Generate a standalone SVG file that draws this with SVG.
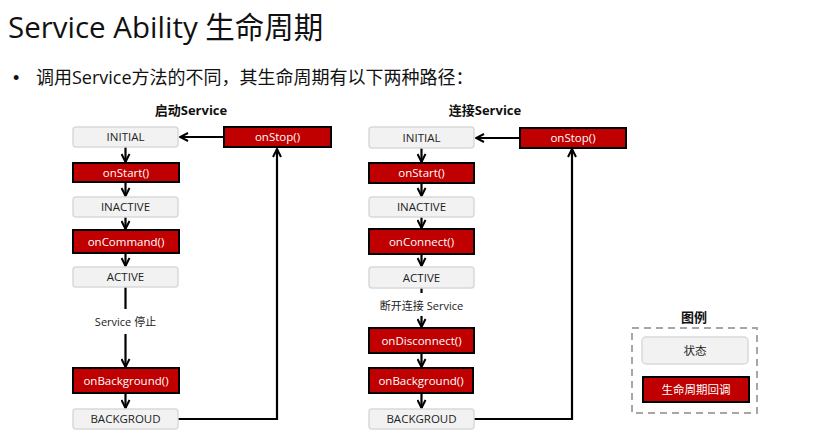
<svg xmlns="http://www.w3.org/2000/svg" width="820" height="437" viewBox="0 0 820 437">
<defs>
<marker id="ah" viewBox="0 0 10 10" refX="9" refY="5" markerWidth="10" markerHeight="10" markerUnits="userSpaceOnUse" orient="auto">
<path d="M1,1 L9,5 L1,9" fill="none" stroke="#000" stroke-width="2"/>
</marker>
<style>
text{font-family:"Open Sans","Noto Sans","Noto Sans CJK SC",sans-serif;}
.st{fill:#f2f2f2;stroke:#d9d9d9;stroke-width:1.5;}
.cb{fill:#c00000;stroke:#000;stroke-width:2;}
.ts{font-size:11.5px;fill:#222;text-anchor:middle;}
.tc{font-size:11.5px;fill:#fff;text-anchor:middle;}
.ln{fill:none;stroke:#000;stroke-width:2.2;}
.ar{fill:none;stroke:#000;stroke-width:2.2;marker-end:url(#ah);}
.hd{font-size:13px;font-weight:bold;fill:#111;text-anchor:middle;}
.lb{font-size:11px;fill:#222;text-anchor:middle;}
</style>
</defs>
<rect width="820" height="437" fill="#fff"/>
<text x="8" y="38" font-size="29.5" fill="#111">Service Ability 生命周期</text>
<text x="13" y="84" font-size="18" fill="#111" style="font-family:'Liberation Sans',sans-serif">•</text>
<text x="36" y="84" font-size="18" fill="#111">调用Service方法的不同，其生命周期有以下两种路径：</text>

<text x="191" y="115" class="hd">启动Service</text>
<text x="485" y="115" class="hd">连接Service</text>

<g id="connectors">
<path class="ar" d="M224,137 H180"/>
<path class="ar" d="M125.5,147 V162"/>
<path class="ar" d="M125.5,182 V196"/>
<path class="ar" d="M125.5,217 V229"/>
<path class="ar" d="M125.5,253 V266"/>
<path class="ln" d="M125.5,287 V309"/>
<path class="ar" d="M125.5,334 V367"/>
<path class="ar" d="M125.5,393 V408"/>
<path class="ar" d="M178,419 H277 V149"/>

<path class="ar" d="M520,138 H476"/>
<path class="ar" d="M421.5,148 V162"/>
<path class="ar" d="M421.5,183 V196"/>
<path class="ar" d="M421.5,217 V228"/>
<path class="ar" d="M421.5,254 V266"/>
<path class="ln" d="M421.5,288 V293"/>
<path class="ar" d="M421.5,316 V327"/>
<path class="ar" d="M421.5,353 V367"/>
<path class="ar" d="M421.5,393 V408"/>
<path class="ar" d="M474,419 H572 V149"/>
</g>

<g id="l-initial"><rect class="st" x="73" y="127" width="105" height="20" rx="3"/><text class="ts" x="125.5" y="141">INITIAL</text></g>
<g id="l-onstart"><rect class="cb" x="73" y="163" width="106" height="19"/><text class="tc" x="126" y="176.5">onStart()</text></g>
<g id="l-inactive"><rect class="st" x="73" y="197" width="105" height="20" rx="3"/><text class="ts" x="125.5" y="211">INACTIVE</text></g>
<g id="l-oncommand"><rect class="cb" x="73" y="230" width="106" height="23"/><text class="tc" x="126" y="245.5">onCommand()</text></g>
<g id="l-active"><rect class="st" x="73" y="267" width="105" height="20" rx="3"/><text class="ts" x="125.5" y="281">ACTIVE</text></g>
<text class="lb" x="125.5" y="326">Service 停止</text>
<g id="l-onbackground"><rect class="cb" x="73" y="368" width="106" height="25"/><text class="tc" x="126" y="384.5">onBackground()</text></g>
<g id="l-background"><rect class="st" x="73" y="409" width="105" height="20" rx="3"/><text class="ts" x="125.5" y="423">BACKGROUD</text></g>
<g id="l-onstop"><rect class="cb" x="224" y="127" width="107" height="20"/><text class="tc" x="277.5" y="141">onStop()</text></g>

<g id="r-initial"><rect class="st" x="369" y="127" width="105" height="21" rx="3"/><text class="ts" x="421.5" y="141.5">INITIAL</text></g>
<g id="r-onstart"><rect class="cb" x="369" y="163" width="105" height="20"/><text class="tc" x="421.5" y="177">onStart()</text></g>
<g id="r-inactive"><rect class="st" x="369" y="197" width="105" height="20" rx="3"/><text class="ts" x="421.5" y="211">INACTIVE</text></g>
<g id="r-onconnect"><rect class="cb" x="369" y="229" width="105" height="25"/><text class="tc" x="421.5" y="245.5">onConnect()</text></g>
<g id="r-active"><rect class="st" x="369" y="267" width="105" height="21" rx="3"/><text class="ts" x="421.5" y="281.5">ACTIVE</text></g>
<text class="lb" x="421.5" y="310">断开连接 Service</text>
<g id="r-ondisconnect"><rect class="cb" x="369" y="328" width="105" height="25"/><text class="tc" x="421.5" y="344.5">onDisconnect()</text></g>
<g id="r-onbackground"><rect class="cb" x="369" y="368" width="104" height="25"/><text class="tc" x="421" y="384.5">onBackground()</text></g>
<g id="r-background"><rect class="st" x="369" y="409" width="105" height="20" rx="3"/><text class="ts" x="421.5" y="423">BACKGROUD</text></g>
<g id="r-onstop"><rect class="cb" x="520" y="128" width="106" height="20"/><text class="tc" x="573" y="142">onStop()</text></g>

<g id="legend">
<text class="hd" x="694" y="322">图例</text>
<rect x="632" y="328" width="125" height="85" fill="none" stroke="#a6a6a6" stroke-width="2" stroke-dasharray="7,5"/>
<rect class="st" x="642" y="337" width="106" height="27" rx="4"/>
<text class="ts" x="695" y="354.5">状态</text>
<rect class="cb" x="643" y="377" width="106" height="25"/>
<text class="tc" x="696" y="393.5">生命周期回调</text>
</g>
</svg>
